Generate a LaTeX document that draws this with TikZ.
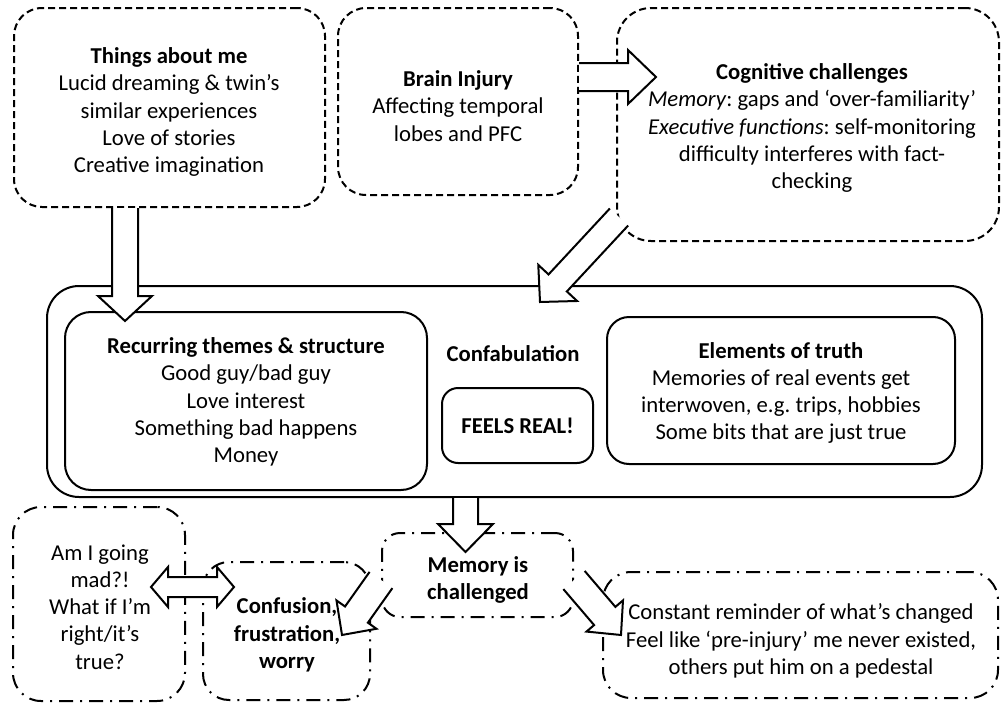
\documentclass[tikz,border=0pt]{standalone}
\usepackage{fontspec}
\setmainfont{Carlito}
\usetikzlibrary{calc}
\frenchspacing
\tikzset{
  txt/.style={align=center, inner sep=0pt, font=\fontsize{22.7pt}{27.2pt}\selectfont\frenchspacing},
  box/.style={draw, line width=2pt, inner sep=0pt},
  dashbox/.style={box, dash pattern=on 7pt off 4pt},
  dotbox/.style={box, dash pattern=on 14pt off 7pt on 2pt off 7pt},
  arrowstyle/.style={draw=black, fill=white, line width=2pt, line join=miter},
}
\newcommand\blockarrow[5]{%
  \path (#1); \pgfgetlastxy{\baAx}{\baAy}
  \path (#2); \pgfgetlastxy{\baBx}{\baBy}
  \pgfmathsetmacro\baAng{atan2(\baBy-\baAy,\baBx-\baAx)}
  \pgfmathsetmacro\baLen{veclen(\baBx-\baAx,\baBy-\baAy)}
  \pgfmathsetmacro\baNeck{\baLen-#5}
  \begin{scope}[shift={(\baAx,\baAy)},rotate=\baAng]
    \filldraw[arrowstyle] (0pt,-#3pt) -- (\baNeck pt,-#3pt) -- (\baNeck pt,-#4pt)
      -- (\baLen pt,0pt) -- (\baNeck pt,#4pt) -- (\baNeck pt,#3pt) -- (0pt,#3pt);
  \end{scope}}
\newcommand\dblblockarrow[5]{%
  \path (#1); \pgfgetlastxy{\baAx}{\baAy}
  \path (#2); \pgfgetlastxy{\baBx}{\baBy}
  \pgfmathsetmacro\baAng{atan2(\baBy-\baAy,\baBx-\baAx)}
  \pgfmathsetmacro\baLen{veclen(\baBx-\baAx,\baBy-\baAy)}
  \pgfmathsetmacro\baNeck{\baLen-#5}
  \begin{scope}[shift={(\baAx,\baAy)},rotate=\baAng]
    \filldraw[arrowstyle] (0pt,0pt) -- (#5pt,#4pt) -- (#5pt,#3pt) -- (\baNeck pt,#3pt)
      -- (\baNeck pt,#4pt) -- (\baLen pt,0pt) -- (\baNeck pt,-#4pt) -- (\baNeck pt,-#3pt)
      -- (#5pt,-#3pt) -- (#5pt,-#4pt) -- cycle;
  \end{scope}}
\begin{document}
\begin{tikzpicture}[x=1pt,y=-1pt]
\useasboundingbox (0,0) rectangle (1002,704);
% top boxes
\node[dashbox, rounded corners=28pt, minimum width=311pt, minimum height=199pt] (things) at (169.5,107.5) {};
\node[dashbox, rounded corners=28pt, minimum width=240pt, minimum height=187pt] (brain) at (458,101.5) {};
\node[dashbox, rounded corners=34pt, minimum width=382pt, minimum height=233pt] (cog) at (808,124.5) {};
% middle
\node[box, rounded corners=32pt, minimum width=935pt, minimum height=211pt] (container) at (514.5,391.5) {};
\node[box, rounded corners=26pt, minimum width=362pt, minimum height=178pt] (recur) at (246,401) {};
\node[box, rounded corners=16pt, minimum width=151pt, minimum height=75pt, txt] (feels) at (517.5,425.5) {\textbf{FEELS REAL!}};
\node[box, rounded corners=22pt, minimum width=348pt, minimum height=147pt] (elem) at (781,390.5) {};
% bottom
\node[dotbox, rounded corners=28pt, minimum width=172pt, minimum height=194pt] (mad) at (99,604) {};
\node[dotbox, rounded corners=26pt, minimum width=167pt, minimum height=138pt] (conf) at (286.5,631) {};
\node[dotbox, rounded corners=18pt, minimum width=191pt, minimum height=84pt] (mem) at (477.5,575) {};
\node[dotbox, rounded corners=28pt, minimum width=395pt, minimum height=126pt] (const) at (800.5,635) {};
% arrow end points
\coordinate (a1s) at ($(things.south)+(-44.5,0)$);
\coordinate (a1e) at ($(things.south)+(-44.5,113)$);
\coordinate (a2s) at ($(brain.east)+(0,-24.5)$);
\coordinate (a2e) at ($(brain.east)+(77,-24.5)$);
\coordinate (a3s) at ($(cog.south west)+(3,-25)$);
\coordinate (a3e) at ($(container.north west)+(494,17)$);
\coordinate (a4s) at ($(container.south)+(-49,0)$);
\coordinate (a4e) at ($(container.south)+(-49,54)$);
\coordinate (a5s) at ($(mem.west)+(0,5)$);
\coordinate (a5e) at ($(mem.west)+(-39,60)$);
\coordinate (a6s) at ($(mem.east)+(0,5)$);
\coordinate (a6e) at ($(mem.east)+(47,60)$);
\coordinate (a7s) at ($(mad.east)+(-35,-17)$);
\coordinate (a7e) at ($(mad.east)+(48,-17)$);
% block arrows
\blockarrow{a1s}{a1e}{13}{27}{25}
\blockarrow{a2s}{a2e}{14}{27}{28}
\blockarrow{a3s}{a3e}{12.5}{26.5}{26}
\blockarrow{a4s}{a4e}{12.5}{27.5}{28}
\blockarrow{a5s}{a5e}{14}{24.5}{25}
\blockarrow{a6s}{a6e}{14}{24}{25}
\dblblockarrow{a7s}{a7e}{10}{20}{17}
% texts
\node[txt] (thingsT) at (169,112) {\textbf{Things about me}\\Lucid dreaming \& twin’s\\similar experiences\\Love of stories\\Creative imagination};
\node[txt] (brainT) at (458,106) {\textbf{Brain Injury}\\Affecting temporal\\lobes and PFC};
\node[txt] (cogT) at (812,128) {\textbf{Cognitive challenges}\\\textit{Memory}: gaps and ‘over-familiarity’\\\textit{Executive functions}: self-monitoring\\difficulty interferes with fact-\\checking};
\node[txt] (recurT) at (246,402) {\textbf{Recurring themes \& structure}\\Good guy/bad guy\\Love interest\\Something bad happens\\Money};
\node[txt] (confabT) at (513,354) {\textbf{Confabulation}};
\node[txt] (elemT) at (781,393) {\textbf{Elements of truth}\\Memories of real events get\\interwoven, e.g. trips, hobbies\\Some bits that are just true};
\node[txt] (madT) at (100,607) {Am I going\\mad?!\\What if I’m\\right/it’s\\true?};
\node[txt] (confT) at (287,635) {\textbf{Confusion,}\\\textbf{frustration,}\\\textbf{worry}};
\node[txt] (memT) at (478,580) {\textbf{Memory is}\\\textbf{challenged}};
\node[txt] (constT) at (801,641) {Constant reminder of what’s changed\\Feel like ‘pre-injury’ me never existed,\\others put him on a pedestal};
\end{tikzpicture}
\end{document}
